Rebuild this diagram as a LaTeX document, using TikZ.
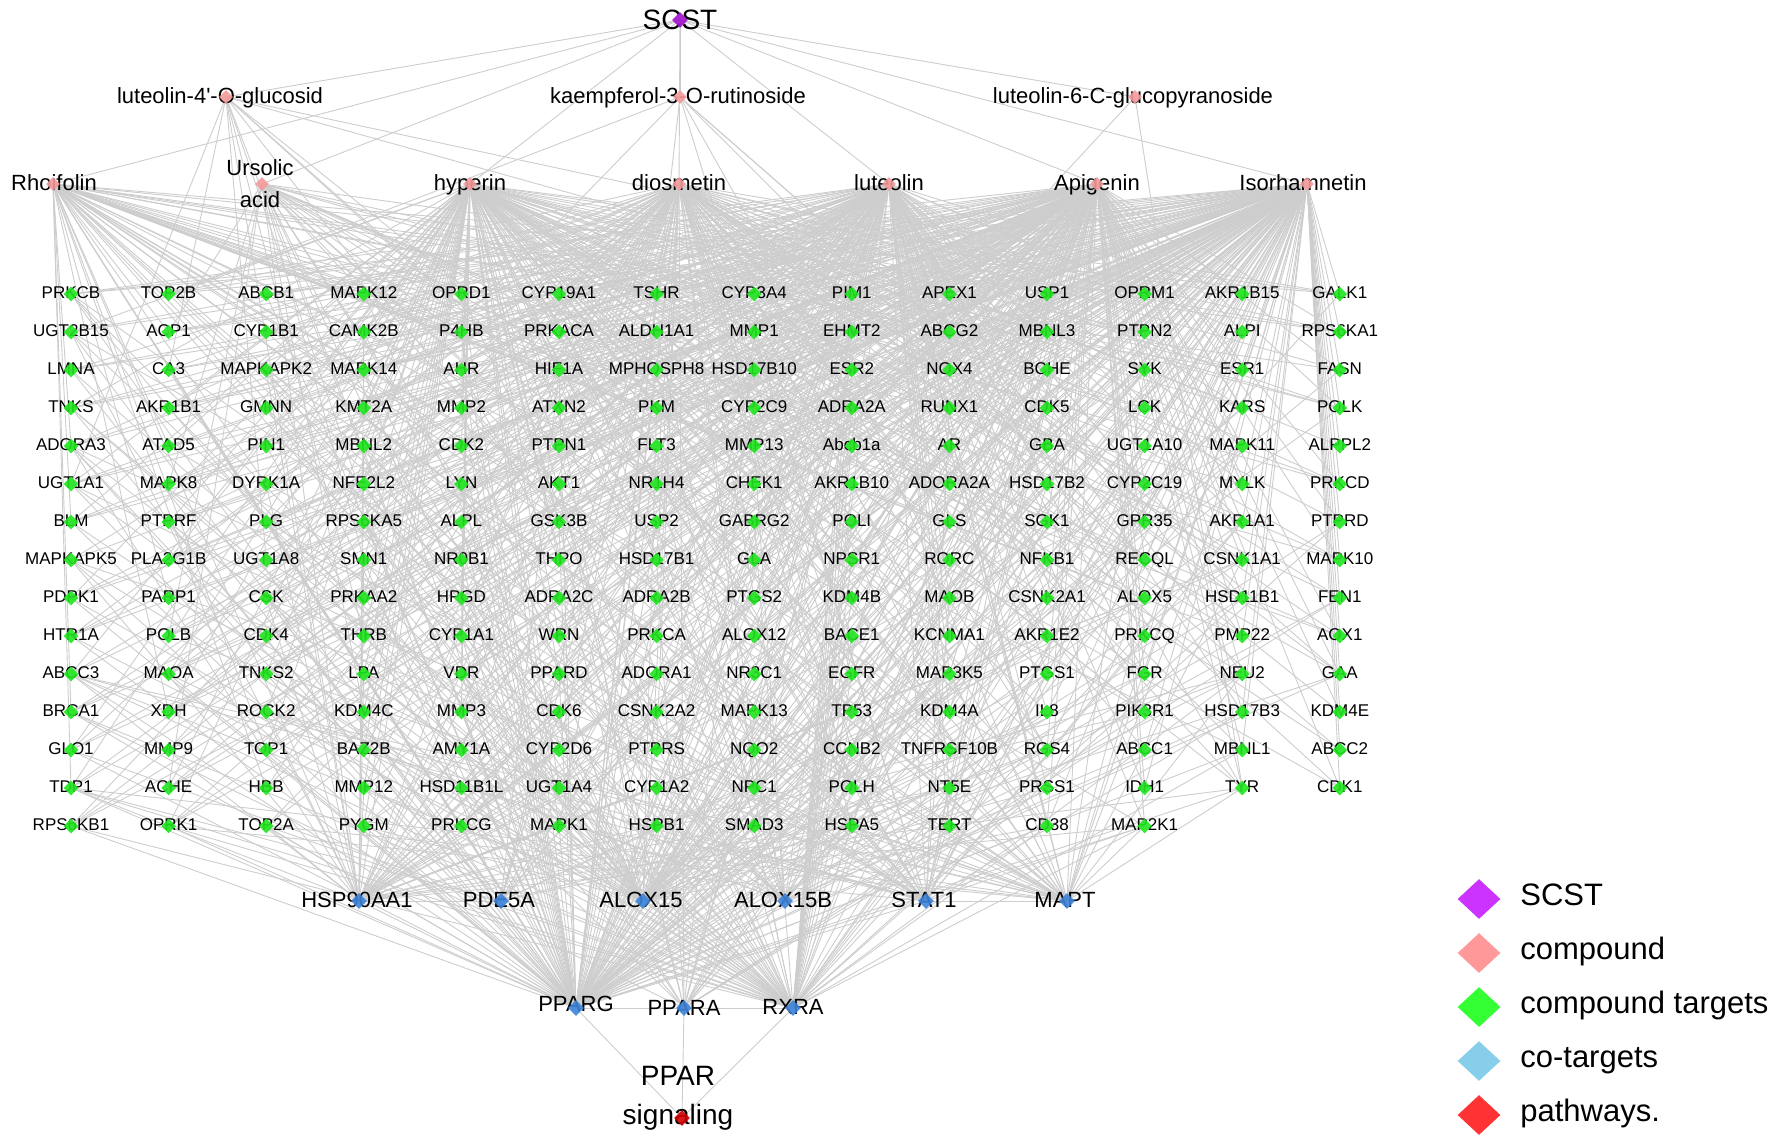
\documentclass[tikz,border=0pt]{standalone}
\usepackage{fontspec}
\setmainfont{Liberation Sans}
\usetikzlibrary{shapes.geometric,backgrounds,positioning}

\definecolor{scstcol}{HTML}{A010CC}
\definecolor{cmpcol}{HTML}{F49A9A}
\definecolor{tgtcol}{HTML}{1EE61E}
\definecolor{cotcol}{HTML}{3C82D8}
\definecolor{pwcol}{HTML}{D00000}
\definecolor{edgecol}{HTML}{CDCDCD}
\definecolor{lgscst}{HTML}{CC33FF}
\definecolor{lgcmp}{HTML}{FF9999}
\definecolor{lgtgt}{HTML}{33FF33}
\definecolor{lgcot}{HTML}{87CEEB}
\definecolor{lgpw}{HTML}{FF3333}

\begin{document}
\begin{tikzpicture}[x=0.5pt, y=-0.5pt,
  edge/.style={draw=edgecol, line width=0.45pt},
  tgtlbl/.style={inner sep=0pt, text height=1.5ex, text depth=0.25ex, font=\fontsize{8.5}{9}\selectfont},
  cmplbl/.style={inner sep=0pt, text height=1.5ex, text depth=0.25ex, font=\fontsize{11}{12}\selectfont},
  biglbl/.style={inner sep=0pt, align=center, font=\fontsize{14}{19.5}\selectfont},
  dia/.style={diamond, inner sep=0pt, minimum size=#1, fill opacity=0.9},
  legdia/.style={diamond, inner sep=0pt, minimum width=21.5pt, minimum height=20pt, fill=#1},
  legtext/.style={inner sep=0pt, anchor=west, text height=1.5ex, text depth=0.25ex, font=\fontsize{15.5}{18}\selectfont}
]
\useasboundingbox (0,0) rectangle (1771,1140);

% SCST
\node[biglbl] (scst-l) at (680,20) {SCST};
\node[dia=8pt, fill=scstcol] (scst) at (680,20) {};

% Komponenten
\node[cmplbl] (lg4-l) at (220,97) {luteolin-4\textquotesingle-O-glucosid};
\node[cmplbl] (kae-l) at (678,97) {kaempferol-3-O-rutinoside};
\node[cmplbl] (lg6-l) at (1133,97) {luteolin-6-C-glucopyranoside};
\node[cmplbl] (rho-l) at (54,184) {Rhoifolin};
\node[cmplbl, align=center, text height=, text depth=, font=\fontsize{11}{16}\selectfont] (urs-l) at (260,184) {Ursolic\\acid};
\node[cmplbl] (hyp-l) at (470,184) {hyperin};
\node[cmplbl] (dio-l) at (679,184) {diosmetin};
\node[cmplbl] (lut-l) at (889,184) {luteolin};
\node[cmplbl] (api-l) at (1097,184) {Apigenin};
\node[cmplbl] (iso-l) at (1303,184) {Isorhamnetin};
\foreach \kn/\kx/\ky in {lg4/226/97, kae/680/97, lg6/1135/97, rho/53/184, urs/262/184,
  hyp/470/184, dio/679/184, lut/889/184, api/1097/184, iso/1307/184}
  \node[dia=7pt, fill=cmpcol] (\kn) at (\kx,\ky) {};

% Targets
\foreach \r/\names in {
  1/{PRKCB,TOP2B,ABCB1,MAPK12,OPRD1,CYP19A1,TSHR,CYP3A4,PIM1,APEX1,USP1,OPRM1,AKR1B15,GALK1},
  2/{UGT2B15,ACP1,CYP1B1,CAMK2B,P4HB,PRKACA,ALDH1A1,MMP1,EHMT2,ABCG2,MBNL3,PTPN2,ALPI,RPS6KA1},
  3/{LMNA,CA3,MAPKAPK2,MAPK14,AHR,HIF1A,MPHOSPH8,HSD17B10,ESR2,NOX4,BCHE,SYK,ESR1,FASN},
  4/{TNKS,AKR1B1,GMNN,KMT2A,MMP2,ATXN2,PKM,CYP2C9,ADRA2A,RUNX1,CDK5,LCK,KARS,POLK},
  5/{ADORA3,ATAD5,PIN1,MBNL2,CDK2,PTPN1,FLT3,MMP13,Abcb1a,AR,GBA,UGT1A10,MAPK11,ALPPL2},
  6/{UGT1A1,MAPK8,DYRK1A,NFE2L2,LYN,AKT1,NR1H4,CHEK1,AKR1B10,ADORA2A,HSD17B2,CYP2C19,MYLK,PRKCD},
  7/{BLM,PTPRF,PLG,RPS6KA5,ALPL,GSK3B,USP2,GABRG2,POLI,GLS,SGK1,GPR35,AKR1A1,PTPRD},
  8/{MAPKAPK5,PLA2G1B,UGT1A8,SMN1,NR0B1,THPO,HSD17B1,GLA,NPSR1,RORC,NFKB1,RECQL,CSNK1A1,MAPK10},
  9/{PDPK1,PARP1,CSK,PRKAA2,HPGD,ADRA2C,ADRA2B,PTGS2,KDM4B,MAOB,CSNK2A1,ALOX5,HSD11B1,FEN1},
  10/{HTR1A,POLB,CDK4,THRB,CYP1A1,WRN,PRKCA,ALOX12,BACE1,KCNMA1,AKR1E2,PRKCQ,PMP22,AOX1},
  11/{ABCC3,MAOA,TNKS2,LPA,VDR,PPARD,ADORA1,NR3C1,EGFR,MAP3K5,PTGS1,FGR,NEU2,GAA},
  12/{BRCA1,XDH,ROCK2,KDM4C,MMP3,CDK6,CSNK2A2,MAPK13,TP53,KDM4A,IL8,PIK3R1,HSD17B3,KDM4E},
  13/{GLO1,MMP9,TOP1,BAZ2B,AMY1A,CYP2D6,PTPRS,NQO2,CCNB2,TNFRSF10B,RGS4,ABCC1,MBNL1,ABCC2},
  14/{TDP1,ACHE,HBB,MMP12,HSD11B1L,UGT1A4,CYP1A2,NPC1,POLH,NT5E,PRSS1,IDH1,TYR,CDK1},
  15/{RPS6KB1,OPRK1,TOP2A,PYGM,PRKCG,MAPK1,HSPB1,SMAD3,HSPA5,TERT,CD38,MAP2K1}}{
  \foreach \g [count=\c] in \names {
    \node[tgtlbl] (l\r-\c) at ({71+97.6*(\c-1)},{292+38*(\r-1)}) {\g};
    \node[dia=7.5pt, fill=tgtcol] (t\r-\c) at ([yshift=-1pt]l\r-\c.center) {};
  }
}

% Co-Targets
\foreach \kn/\kx/\txt in {hsp/357/HSP90AA1, pde/499/PDE5A, a15/641/ALOX15,
  a15b/783/ALOX15B, stat/924/STAT1, mapt/1065/MAPT}{
  \node[cmplbl] (\kn-l) at (\kx,901) {\txt};
  \node[dia=8pt, fill=cotcol] (\kn) at (\kx+2,901) {};
}
\foreach \kn/\kx/\ky/\txt in {pparg/576/1005/PPARG, ppara/684/1009/PPARA, rxra/793/1008/RXRA}{
  \node[cmplbl] (\kn-l) at (\kx,\ky) {\txt};
  \node[dia=8pt, fill=cotcol] (\kn) at (\kx,1008) {};
}

% Pathway
\node[biglbl] (ppar-l) at (678,1098) {PPAR\\signaling};
\node[dia=8pt, fill=pwcol] (ppar) at (682,1118) {};

% Kanten
\begin{pgfonlayer}{background}
\foreach \kn in {lg4,kae,lg6,rho,urs,hyp,dio,lut,api,iso}
  \draw[edge] (scst.center) -- (\kn.center);
\foreach \r in {1,...,15}{
  \foreach \c in {1,...,14}{
    \pgfmathtruncatemacro\ok{(\r<15)||(\c<13)}
    \ifnum\ok=1
      \pgfmathtruncatemacro\hn{31*\r+17*\c+\r*\c}
      \foreach \kn/\km/\ko/\ks in {api/4/0/3, lut/5/1/4, iso/3/2/2, dio/5/3/2, hyp/7/4/4,
        urs/4/0/1, rho/7/5/2, lg4/19/0/1, kae/37/7/1, lg6/53/11/1,
        hsp/3/0/1, pde/9/3/1, a15/7/2/1, a15b/8/5/1, stat/5/1/1, mapt/6/3/1,
        pparg/4/3/1, ppara/11/6/1, rxra/8/7/1}{
        \pgfmathtruncatemacro\hh{mod(\hn+\ko,\km)}
        \ifnum\hh<\ks\relax \draw[edge] (\kn.center) -- (t\r-\c.center);\fi
      }
    \fi
  }
}
\foreach \ka/\kb in {hsp/rho, hsp/urs, hsp/hyp, hsp/dio, hsp/lut, hsp/api, hsp/iso, hsp/lg4,
  pde/lut, pde/api, pde/dio, a15/lut, a15/api, a15/iso, a15/hyp, a15b/lut, a15b/api,
  stat/lut, stat/api, stat/iso, stat/hyp, stat/kae, mapt/lut, mapt/api, mapt/iso, mapt/urs,
  pparg/rho, pparg/urs, pparg/hyp, pparg/dio, pparg/lut, pparg/api, pparg/iso, pparg/lg4, pparg/kae,
  ppara/lut, ppara/api, ppara/iso, ppara/dio, ppara/hyp, rxra/lut, rxra/api, rxra/urs,
  hsp/pde, stat/mapt, pparg/ppara, ppara/rxra, pparg/hsp, pparg/stat, rxra/a15,
  ppar/pparg, ppar/ppara, ppar/rxra}
  \draw[edge] (\ka.center) -- (\kb.center);
\end{pgfonlayer}

% Legende
\foreach \col/\txt [count=\i] in {lgscst/SCST, lgcmp/compound, lgtgt/compound targets,
  lgcot/co-targets, lgpw/pathways.}{
  \node[legdia=\col] (leg\i) at (1479,{899+54*(\i-1)}) {};
  \node[legtext, right=9.5pt of leg\i] (legt\i) {\txt};
}

\end{tikzpicture}
\end{document}
